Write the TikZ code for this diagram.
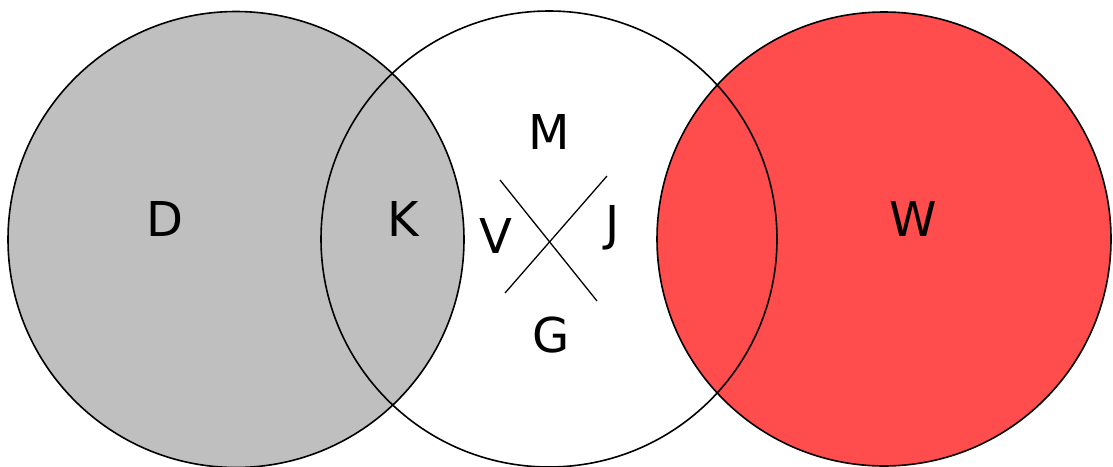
\documentclass[tikz,border=0pt]{standalone}
\usepackage{fontspec}
\setmainfont{DejaVu Sans}
\definecolor{venngray}{RGB}{191,191,191}
\definecolor{vennred}{RGB}{255,76,76}
\tikzset{
  lbl/.style={inner sep=0pt, anchor=base, font=\fontsize{48}{58}\selectfont},
  ring/.style={draw=black, line width=1.6pt}
}
\begin{document}
\begin{tikzpicture}[x=1pt,y=-1pt]
\useasboundingbox (0,0) rectangle (1113,466);
\coordinate (cd) at (236,239.5);
\coordinate (cm) at (549,239);
\coordinate (cw) at (884,239);
\fill[venngray] (cd) circle [radius=228];
\fill[vennred] (cw) circle [radius=227];
\draw[ring] (cd) circle [radius=228];
\draw[ring] (cm) circle [radius=228];
\draw[ring] (cw) circle [radius=227];
\node[lbl] (d) at (164.5,236.7) {D};
\node[lbl] (k) at (403.5,236.7) {K};
\node[lbl] (w) at (913,236.7) {W};
\node[lbl] (m) at (549,149) {M};
\node[lbl] (v) at (496,253) {V};
\node[lbl] (j) at (613,240) {J};
\node[lbl] (g) at (551,352.5) {G};
\coordinate (x1) at (500,180);
\coordinate (x2) at (597,301);
\coordinate (x3) at (607,176);
\coordinate (x4) at (505,293);
\draw[line width=1.3pt] (x1) -- (x2);
\draw[line width=1.3pt] (x3) -- (x4);
\end{tikzpicture}
\end{document}
